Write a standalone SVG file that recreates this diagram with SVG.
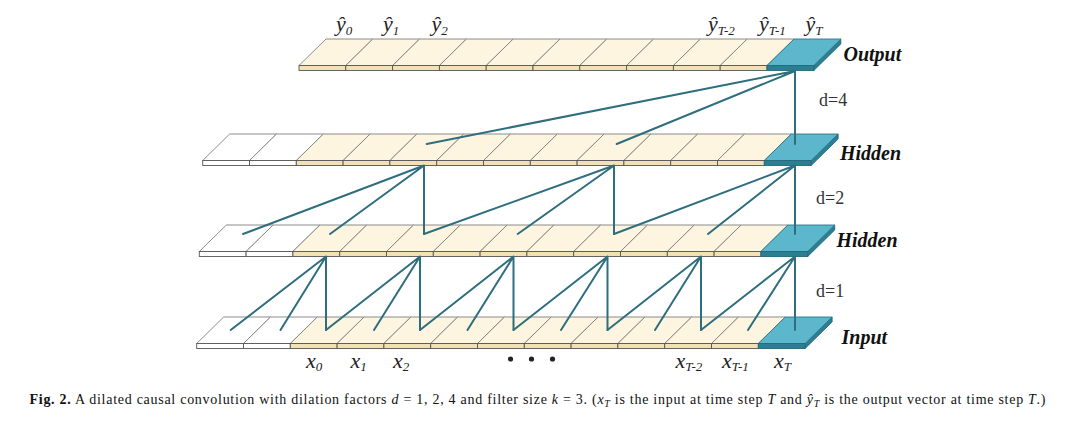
<svg xmlns="http://www.w3.org/2000/svg" width="1092" height="421" viewBox="0 0 1092 421">
<style>
.tb{fill:#fdf5df;stroke:#808080;stroke-width:0.9}
.tw{fill:#ffffff;stroke:#808080;stroke-width:0.9}
.tl{fill:#5cb6cc;stroke:#2a7688;stroke-width:0.9}
.fb{fill:#f1e1b5;stroke:#555555;stroke-width:0.9}
.fw{fill:#ffffff;stroke:#555555;stroke-width:0.9}
.fl{fill:#2b7f93;stroke:#24697a;stroke-width:0.9}
.sd{fill:#2b7f93;stroke:#24697a;stroke-width:0.9}
.con{fill:none;stroke:#2e6e7e;stroke-width:2;stroke-linecap:round;stroke-linejoin:miter}
.lab{font-family:"Liberation Serif",serif;font-size:22px;font-style:italic;fill:#222}
.sub{font-size:13px;font-style:italic}
.ln{font-family:"Liberation Serif",serif;font-size:20px;font-weight:bold;font-style:italic;fill:#111}
.dl{font-family:"Liberation Serif",serif;font-size:18px;fill:#333}
.cap{font-family:"Liberation Serif",serif;font-size:14px;fill:#111}
</style>

<g id="output" transform="translate(299,39)">
<polygon class="sd" points="514.8,26.5 541.8,0 541.8,5 514.8,31.5"/>
<polygon class="tb" points="0,26.5 46.8,26.5 73.8,0 27,0"/>
<polygon class="tb" points="46.8,26.5 93.6,26.5 120.6,0 73.8,0"/>
<polygon class="tb" points="93.6,26.5 140.4,26.5 167.4,0 120.6,0"/>
<polygon class="tb" points="140.4,26.5 187.2,26.5 214.2,0 167.4,0"/>
<polygon class="tb" points="187.2,26.5 234,26.5 261,0 214.2,0"/>
<polygon class="tb" points="234,26.5 280.8,26.5 307.8,0 261,0"/>
<polygon class="tb" points="280.8,26.5 327.6,26.5 354.6,0 307.8,0"/>
<polygon class="tb" points="327.6,26.5 374.4,26.5 401.4,0 354.6,0"/>
<polygon class="tb" points="374.4,26.5 421.2,26.5 448.2,0 401.4,0"/>
<polygon class="tb" points="421.2,26.5 468,26.5 495,0 448.2,0"/>
<polygon class="tl" points="468,26.5 514.8,26.5 541.8,0 495,0"/>
<rect class="fb" x="0" y="26.5" width="46.8" height="5"/>
<rect class="fb" x="46.8" y="26.5" width="46.8" height="5"/>
<rect class="fb" x="93.6" y="26.5" width="46.8" height="5"/>
<rect class="fb" x="140.4" y="26.5" width="46.8" height="5"/>
<rect class="fb" x="187.2" y="26.5" width="46.8" height="5"/>
<rect class="fb" x="234" y="26.5" width="46.8" height="5"/>
<rect class="fb" x="280.8" y="26.5" width="46.8" height="5"/>
<rect class="fb" x="327.6" y="26.5" width="46.8" height="5"/>
<rect class="fb" x="374.4" y="26.5" width="46.8" height="5"/>
<rect class="fb" x="421.2" y="26.5" width="46.8" height="5"/>
<rect class="fl" x="468" y="26.5" width="46.8" height="5"/>
</g>

<g id="hidden1" transform="translate(202.7,134)">
<polygon class="sd" points="608.4,26.5 635.4,0 635.4,5 608.4,31.5"/>
<polygon class="tw" points="0,26.5 46.8,26.5 73.8,0 27,0"/>
<polygon class="tw" points="46.8,26.5 93.6,26.5 120.6,0 73.8,0"/>
<polygon class="tb" points="93.6,26.5 140.4,26.5 167.4,0 120.6,0"/>
<polygon class="tb" points="140.4,26.5 187.2,26.5 214.2,0 167.4,0"/>
<polygon class="tb" points="187.2,26.5 234,26.5 261,0 214.2,0"/>
<polygon class="tb" points="234,26.5 280.8,26.5 307.8,0 261,0"/>
<polygon class="tb" points="280.8,26.5 327.6,26.5 354.6,0 307.8,0"/>
<polygon class="tb" points="327.6,26.5 374.4,26.5 401.4,0 354.6,0"/>
<polygon class="tb" points="374.4,26.5 421.2,26.5 448.2,0 401.4,0"/>
<polygon class="tb" points="421.2,26.5 468,26.5 495,0 448.2,0"/>
<polygon class="tb" points="468,26.5 514.8,26.5 541.8,0 495,0"/>
<polygon class="tb" points="514.8,26.5 561.6,26.5 588.6,0 541.8,0"/>
<polygon class="tl" points="561.6,26.5 608.4,26.5 635.4,0 588.6,0"/>
<rect class="fw" x="0" y="26.5" width="46.8" height="5"/>
<rect class="fw" x="46.8" y="26.5" width="46.8" height="5"/>
<rect class="fb" x="93.6" y="26.5" width="46.8" height="5"/>
<rect class="fb" x="140.4" y="26.5" width="46.8" height="5"/>
<rect class="fb" x="187.2" y="26.5" width="46.8" height="5"/>
<rect class="fb" x="234" y="26.5" width="46.8" height="5"/>
<rect class="fb" x="280.8" y="26.5" width="46.8" height="5"/>
<rect class="fb" x="327.6" y="26.5" width="46.8" height="5"/>
<rect class="fb" x="374.4" y="26.5" width="46.8" height="5"/>
<rect class="fb" x="421.2" y="26.5" width="46.8" height="5"/>
<rect class="fb" x="468" y="26.5" width="46.8" height="5"/>
<rect class="fb" x="514.8" y="26.5" width="46.8" height="5"/>
<rect class="fl" x="561.6" y="26.5" width="46.8" height="5"/>
</g>

<g id="hidden2" transform="translate(199.3,225)">
<polygon class="sd" points="608.4,26.5 635.4,0 635.4,5 608.4,31.5"/>
<polygon class="tw" points="0,26.5 46.8,26.5 73.8,0 27,0"/>
<polygon class="tw" points="46.8,26.5 93.6,26.5 120.6,0 73.8,0"/>
<polygon class="tb" points="93.6,26.5 140.4,26.5 167.4,0 120.6,0"/>
<polygon class="tb" points="140.4,26.5 187.2,26.5 214.2,0 167.4,0"/>
<polygon class="tb" points="187.2,26.5 234,26.5 261,0 214.2,0"/>
<polygon class="tb" points="234,26.5 280.8,26.5 307.8,0 261,0"/>
<polygon class="tb" points="280.8,26.5 327.6,26.5 354.6,0 307.8,0"/>
<polygon class="tb" points="327.6,26.5 374.4,26.5 401.4,0 354.6,0"/>
<polygon class="tb" points="374.4,26.5 421.2,26.5 448.2,0 401.4,0"/>
<polygon class="tb" points="421.2,26.5 468,26.5 495,0 448.2,0"/>
<polygon class="tb" points="468,26.5 514.8,26.5 541.8,0 495,0"/>
<polygon class="tb" points="514.8,26.5 561.6,26.5 588.6,0 541.8,0"/>
<polygon class="tl" points="561.6,26.5 608.4,26.5 635.4,0 588.6,0"/>
<rect class="fw" x="0" y="26.5" width="46.8" height="5"/>
<rect class="fw" x="46.8" y="26.5" width="46.8" height="5"/>
<rect class="fb" x="93.6" y="26.5" width="46.8" height="5"/>
<rect class="fb" x="140.4" y="26.5" width="46.8" height="5"/>
<rect class="fb" x="187.2" y="26.5" width="46.8" height="5"/>
<rect class="fb" x="234" y="26.5" width="46.8" height="5"/>
<rect class="fb" x="280.8" y="26.5" width="46.8" height="5"/>
<rect class="fb" x="327.6" y="26.5" width="46.8" height="5"/>
<rect class="fb" x="374.4" y="26.5" width="46.8" height="5"/>
<rect class="fb" x="421.2" y="26.5" width="46.8" height="5"/>
<rect class="fb" x="468" y="26.5" width="46.8" height="5"/>
<rect class="fb" x="514.8" y="26.5" width="46.8" height="5"/>
<rect class="fl" x="561.6" y="26.5" width="46.8" height="5"/>
</g>

<g id="input" transform="translate(196.7,317)">
<polygon class="sd" points="608.4,26.5 635.4,0 635.4,5 608.4,31.5"/>
<polygon class="tw" points="0,26.5 46.8,26.5 73.8,0 27,0"/>
<polygon class="tw" points="46.8,26.5 93.6,26.5 120.6,0 73.8,0"/>
<polygon class="tb" points="93.6,26.5 140.4,26.5 167.4,0 120.6,0"/>
<polygon class="tb" points="140.4,26.5 187.2,26.5 214.2,0 167.4,0"/>
<polygon class="tb" points="187.2,26.5 234,26.5 261,0 214.2,0"/>
<polygon class="tb" points="234,26.5 280.8,26.5 307.8,0 261,0"/>
<polygon class="tb" points="280.8,26.5 327.6,26.5 354.6,0 307.8,0"/>
<polygon class="tb" points="327.6,26.5 374.4,26.5 401.4,0 354.6,0"/>
<polygon class="tb" points="374.4,26.5 421.2,26.5 448.2,0 401.4,0"/>
<polygon class="tb" points="421.2,26.5 468,26.5 495,0 448.2,0"/>
<polygon class="tb" points="468,26.5 514.8,26.5 541.8,0 495,0"/>
<polygon class="tb" points="514.8,26.5 561.6,26.5 588.6,0 541.8,0"/>
<polygon class="tl" points="561.6,26.5 608.4,26.5 635.4,0 588.6,0"/>
<rect class="fw" x="0" y="26.5" width="46.8" height="5"/>
<rect class="fw" x="46.8" y="26.5" width="46.8" height="5"/>
<rect class="fb" x="93.6" y="26.5" width="46.8" height="5"/>
<rect class="fb" x="140.4" y="26.5" width="46.8" height="5"/>
<rect class="fb" x="187.2" y="26.5" width="46.8" height="5"/>
<rect class="fb" x="234" y="26.5" width="46.8" height="5"/>
<rect class="fb" x="280.8" y="26.5" width="46.8" height="5"/>
<rect class="fb" x="327.6" y="26.5" width="46.8" height="5"/>
<rect class="fb" x="374.4" y="26.5" width="46.8" height="5"/>
<rect class="fb" x="421.2" y="26.5" width="46.8" height="5"/>
<rect class="fb" x="468" y="26.5" width="46.8" height="5"/>
<rect class="fb" x="514.8" y="26.5" width="46.8" height="5"/>
<rect class="fl" x="561.6" y="26.5" width="46.8" height="5"/>
</g>

<g id="connectors">
<path class="con" d="M426.7,144 L795,71 L616.7,144 M795,71 L795,144"/>
<path class="con" d="M243,234 L424,165.5 L330,234 M424,165.5 L424,234"/>
<path class="con" d="M424,234 L614,165.5 L517.7,234 M614,165.5 L614,234"/>
<path class="con" d="M614,234 L795,165.5 L708,234 M795,165.5 L795,234"/>
<path class="con" d="M230.7,330 L326,256.5 L280.5,330 M326,256.5 L326,330"/>
<path class="con" d="M326,330 L420,256.5 L374,330 M420,256.5 L420,330"/>
<path class="con" d="M420,330 L513.5,256.5 L467.5,330 M513.5,256.5 L513.5,330"/>
<path class="con" d="M513.5,330 L607.5,256.5 L561,330 M607.5,256.5 L607.5,330"/>
<path class="con" d="M607.5,330 L701,256.5 L655,330 M701,256.5 L701,330"/>
<path class="con" d="M701,330 L795,256.5 L748,330 M795,256.5 L795,330"/>
</g>

<g id="labels">
<text class="lab" x="336" y="30.5">ŷ<tspan class="sub" dy="4">0</tspan></text>
<text class="lab" x="383" y="30.5">ŷ<tspan class="sub" dy="4">1</tspan></text>
<text class="lab" x="431.5" y="30.5">ŷ<tspan class="sub" dy="4">2</tspan></text>
<text class="lab" x="708" y="30.5">ŷ<tspan class="sub" dy="4">T-2</tspan></text>
<text class="lab" x="759" y="30.5">ŷ<tspan class="sub" dy="4">T-1</tspan></text>
<text class="lab" x="805.5" y="30.5">ŷ<tspan class="sub" dy="4">T</tspan></text>
<text class="lab" x="306" y="368">x<tspan class="sub" dy="2.5">0</tspan></text>
<text class="lab" x="350.5" y="368">x<tspan class="sub" dy="2.5">1</tspan></text>
<text class="lab" x="393" y="368">x<tspan class="sub" dy="2.5">2</tspan></text>
<text class="lab" x="675.5" y="368">x<tspan class="sub" dy="2.5">T-2</tspan></text>
<text class="lab" x="722" y="368">x<tspan class="sub" dy="2.5">T-1</tspan></text>
<text class="lab" x="774" y="368">x<tspan class="sub" dy="2.5">T</tspan></text>
<circle cx="510.5" cy="359" r="2.6" fill="#222"/>
<circle cx="531.5" cy="359" r="2.6" fill="#222"/>
<circle cx="552.5" cy="359" r="2.6" fill="#222"/>
<text class="ln" x="843.5" y="60.5">Output</text>
<text class="ln" x="840" y="160">Hidden</text>
<text class="ln" x="836.5" y="246.5">Hidden</text>
<text class="ln" x="841.5" y="343.5">Input</text>
<text class="dl" x="819" y="106">d=4</text>
<text class="dl" x="816" y="204">d=2</text>
<text class="dl" x="816" y="297">d=1</text>
</g>

<text class="cap" x="29.5" y="403.5" textLength="1016" lengthAdjust="spacing"><tspan font-weight="bold">Fig. 2.</tspan>  A dilated causal convolution with dilation factors <tspan font-style="italic">d</tspan> = 1, 2, 4 and filter size <tspan font-style="italic">k</tspan> = 3. (<tspan font-style="italic">x</tspan><tspan font-style="italic" font-size="10" dy="3">T</tspan><tspan dy="-3"> is the input at time step </tspan><tspan font-style="italic">T</tspan> and <tspan font-style="italic">ŷ</tspan><tspan font-style="italic" font-size="10" dy="3">T</tspan><tspan dy="-3"> is the output vector at time step </tspan><tspan font-style="italic">T</tspan>.)</text>
</svg>
